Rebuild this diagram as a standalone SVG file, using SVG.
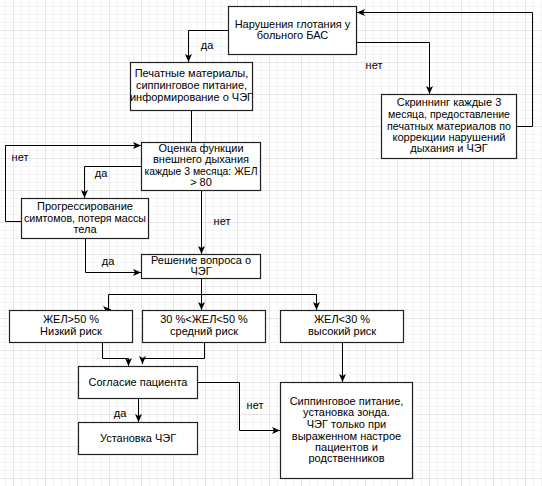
<svg xmlns="http://www.w3.org/2000/svg" width="542" height="486" viewBox="0 0 542 486">
<style>
.n rect{fill:#fff;stroke:#222;stroke-width:1.2}
text{font-family:"Liberation Sans",Arial,sans-serif;font-size:11px;fill:#000;text-anchor:middle}
.c path{fill:none;stroke:#000;stroke-width:1}
.a{marker-end:url(#arr)}
</style>
<defs>
<pattern id="grid" x="13" y="30" width="32" height="32" patternUnits="userSpaceOnUse">
<path d="M8.5,0V32M16.5,0V32M24.5,0V32M0,8.5H32M0,16.5H32M0,24.5H32" stroke="#f3f3f3" stroke-width="1" fill="none"/>
<path d="M0.5,0V32M0,0.5H32" stroke="#e4e4e4" stroke-width="1" fill="none"/>
</pattern>
<marker id="arr" markerUnits="userSpaceOnUse" markerWidth="9" markerHeight="8" refX="8" refY="4" orient="auto">
<path d="M0,0.5 L8,4 L0,7.5 L2,4 Z" fill="#000"/>
</marker>
</defs>
<rect width="542" height="486" fill="#fff"/>
<rect width="542" height="486" fill="url(#grid)"/>
<g class="c" id="connectors">
<path class="a" d="M228,30.5H188.5V62"/>
<path class="a" d="M357,42.5H429.5V94"/>
<path class="a" d="M517,126.5H532.5V12.5H357"/>
<path d="M191.5,110V142"/>
<path class="a" d="M141,166.5H84.5V198"/>
<path class="a" d="M21,221.5H5.5V145.5H141"/>
<path class="a" d="M201.5,190V254"/>
<path class="a" d="M85.5,238V272.5H141"/>
<path class="a" d="M201.5,278V310"/>
<path d="M108.5,294.5H316.5"/>
<path class="a" d="M108.5,294.5V309.5H111"/>
<path class="a" d="M316.5,294.5V310"/>
<path class="a" d="M102.5,342V358.5H128.5V366"/>
<path class="a" d="M204.5,342V358.5H142.5V364"/>
<path class="a" d="M342.5,342V382"/>
<path class="a" d="M198,382.5H239.5V430.5H280"/>
<path class="a" d="M138.5,398V422"/>
</g>
<g id="labels">
<text x="207" y="49">да</text>
<text x="374" y="69">нет</text>
<text x="101" y="177">да</text>
<text x="20" y="161">нет</text>
<text x="222" y="225">нет</text>
<text x="108" y="265">да</text>
<text x="255" y="409">нет</text>
<text x="120" y="417">да</text>
</g>
<g class="n" id="n1"><rect x="228.5" y="6.5" width="128" height="48"/>
<text x="292.5" y="28">Нарушения глотания у</text><text x="292.5" y="39">больного БАС</text></g>
<g class="n" id="n2"><rect x="130.5" y="62.5" width="122" height="48"/>
<text x="191.5" y="77">Печатные материалы,</text><text x="191.5" y="89">сиппинговое питание,</text><text x="191.5" y="101">информирование о ЧЭГ</text></g>
<g class="n" id="n3"><rect x="381.5" y="94.5" width="135" height="64"/>
<text x="449" y="106">Скриннинг каждые 3</text><text x="449" y="118" textLength="122" lengthAdjust="spacingAndGlyphs">месяца, предоставление</text><text x="449" y="129.5" textLength="124" lengthAdjust="spacingAndGlyphs">печатных материалов по</text><text x="449" y="141">коррекции нарушений</text><text x="449" y="152">дыхания и ЧЭГ</text></g>
<g class="n" id="n4"><rect x="141.5" y="142.5" width="119" height="48"/>
<text x="201" y="152">Оценка функции</text><text x="201" y="163">внешнего дыхания</text><text x="201" y="174.5" textLength="113" lengthAdjust="spacingAndGlyphs">каждые 3 месяца: ЖЕЛ</text><text x="201" y="186">&gt; 80</text></g>
<g class="n" id="n5"><rect x="21.5" y="198.5" width="127" height="40"/>
<text x="85" y="210">Прогрессирование</text><text x="85" y="222" textLength="122" lengthAdjust="spacingAndGlyphs">симтомов, потеря массы</text><text x="85" y="233">тела</text></g>
<g class="n" id="n6"><rect x="141.5" y="254.5" width="119" height="24"/>
<text x="201" y="263.5">Решение вопроса о</text><text x="201" y="275">ЧЭГ</text></g>
<g class="n" id="n7"><rect x="9.5" y="310.5" width="123" height="32"/>
<text x="71" y="323">ЖЕЛ&gt;50 %</text><text x="71" y="335">Низкий риск</text></g>
<g class="n" id="n8"><rect x="142.5" y="310.5" width="123" height="32"/>
<text x="204" y="323">30 %&lt;ЖЕЛ&lt;50 %</text><text x="204" y="335">средний риск</text></g>
<g class="n" id="n9"><rect x="280.5" y="310.5" width="123" height="32"/>
<text x="342" y="323">ЖЕЛ&lt;30 %</text><text x="342" y="335">высокий риск</text></g>
<g class="n" id="n10"><rect x="78.5" y="366.5" width="119" height="32"/>
<text x="138" y="386">Согласие пациента</text></g>
<g class="n" id="n11"><rect x="78.5" y="422.5" width="119" height="32"/>
<text x="138" y="442">Установка ЧЭГ</text></g>
<g class="n" id="n12"><rect x="280.5" y="382.5" width="132" height="96"/>
<text x="346.5" y="404.5">Сиппинговое питание,</text><text x="346.5" y="416">установка зонда.</text><text x="346.5" y="428">ЧЭГ только при</text><text x="346.5" y="439.5">выраженном настрое</text><text x="346.5" y="451">пациентов и</text><text x="346.5" y="462">родственников</text></g>
</svg>
